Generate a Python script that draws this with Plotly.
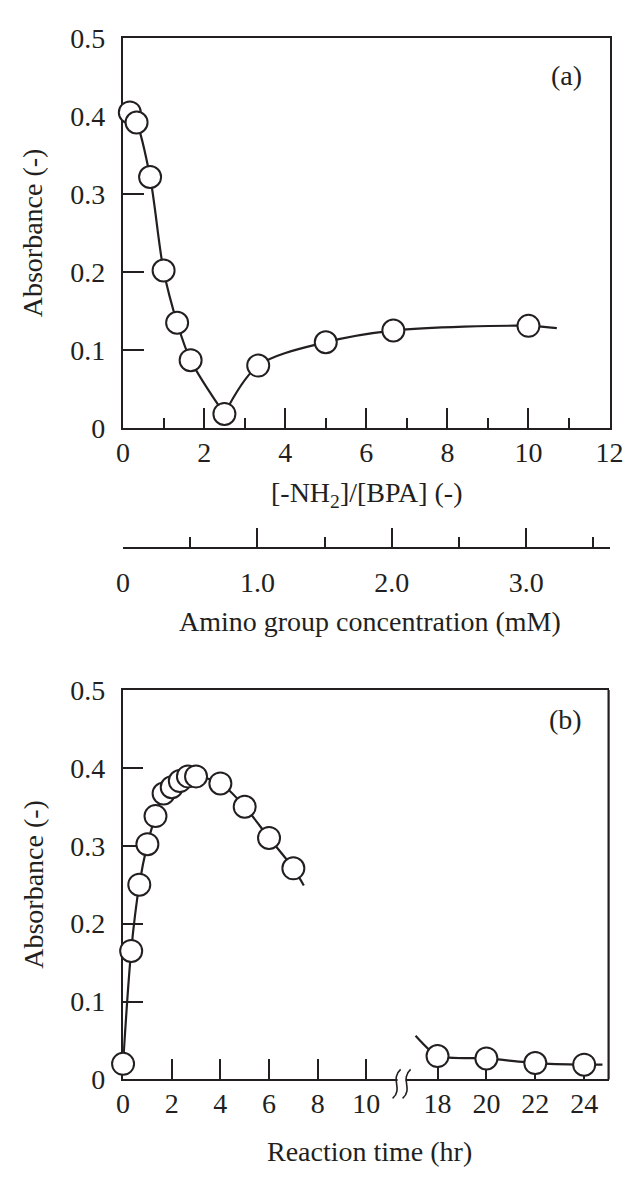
import plotly.graph_objects as go

W, H = 640, 1187
INK = "#231f20"
FONT = "'Liberation Serif', 'Times New Roman', Tinos, 'DejaVu Serif', serif"
FS = 28

# ---------------- data: panel (a) ----------------
ratio_a = [1/6, 1/3, 2/3, 1.0, 4/3, 5/3, 2.5, 10/3, 5.0, 20/3, 10.0]
abs_a = [0.405, 0.392, 0.322, 0.202, 0.135, 0.087, 0.018, 0.080, 0.110, 0.125, 0.131]
fit_a_end_x = [10.7]
fit_a_end_y = [0.128]
BPA_mM = 0.3  # amino conc (mM) = ratio * BPA conc

# ---------------- data: panel (b) ----------------
time_early = [0, 1/3, 2/3, 1, 4/3, 5/3, 2, 7/3, 8/3, 3, 4, 5, 6, 7]
abs_early = [0.020, 0.165, 0.250, 0.302, 0.338, 0.367, 0.375, 0.383, 0.389, 0.389,
             0.380, 0.350, 0.310, 0.271]
fit_early_end_x = [7.43]
fit_early_end_y = [0.249]
time_late = [18, 20, 22, 24]
abs_late = [0.030, 0.027, 0.021, 0.019]
fit_late_start_x = [17.1]
fit_late_start_y = [0.056]
fit_late_end_x = [24.75]
fit_late_end_y = [0.019]

# tick labels
y_ticks = [0, 0.1, 0.2, 0.3, 0.4, 0.5]
y_ticktext = ["0", "0.1", "0.2", "0.3", "0.4", "0.5"]
xa_ticks = [0, 2, 4, 6, 8, 10, 12]
xa_minor = [1, 3, 5, 7, 9, 11]
amino_ticks = [0, 1, 2, 3]
amino_ticktext = ["0", "1.0", "2.0", "3.0"]
amino_minor = [0.5, 1.5, 2.5, 3.5]
tb_left_ticks = [0, 2, 4, 6, 8, 10]
tb_right_ticks = [18, 20, 22, 24]

BREAK_LEFT = 11.45
BREAK_RIGHT = 16.53

line_style = dict(color=INK, width=2.2, shape="spline", smoothing=0.9)
marker_style = dict(symbol="circle", size=22, color="white", line=dict(color=INK, width=2))

fig = go.Figure()

# ---- panel (a) fit curve (two branches, sharp minimum) ----
fig.add_trace(go.Scatter(x=ratio_a[:7], y=abs_a[:7], mode="lines", line=line_style,
                         xaxis="x", yaxis="y", hoverinfo="skip"))
fig.add_trace(go.Scatter(x=ratio_a[6:] + fit_a_end_x, y=abs_a[6:] + fit_a_end_y, mode="lines",
                         line=line_style, xaxis="x", yaxis="y", hoverinfo="skip"))
fig.add_trace(go.Scatter(x=ratio_a, y=abs_a, mode="markers", marker=marker_style,
                         xaxis="x", yaxis="y", cliponaxis=False))
# invisible trace carrying the amino-group concentration axis
fig.add_trace(go.Scatter(x=[r * BPA_mM for r in ratio_a], y=abs_a, mode="markers",
                         marker=dict(opacity=0), xaxis="x4", yaxis="y", hoverinfo="skip"))

# ---- panel (b) ----
fig.add_trace(go.Scatter(x=time_early + fit_early_end_x, y=abs_early + fit_early_end_y,
                         mode="lines", line=line_style, xaxis="x2", yaxis="y2", hoverinfo="skip"))
fig.add_trace(go.Scatter(x=time_early, y=abs_early, mode="markers", marker=marker_style,
                         xaxis="x2", yaxis="y2", cliponaxis=False))
fig.add_trace(go.Scatter(x=fit_late_start_x + time_late + fit_late_end_x,
                         y=fit_late_start_y + abs_late + fit_late_end_y,
                         mode="lines", line=dict(color=INK, width=2.2, shape="spline", smoothing=0.6),
                         xaxis="x3", yaxis="y2", hoverinfo="skip"))
fig.add_trace(go.Scatter(x=time_late, y=abs_late, mode="markers", marker=marker_style,
                         xaxis="x3", yaxis="y2", cliponaxis=False))


def px_x(p):
    return p / W


def px_y(p):
    return (H - p) / H


tickfont = dict(family=FONT, size=FS, color=INK)
common = dict(showline=True, linecolor=INK, linewidth=2.2, ticks="inside", tickcolor=INK,
              tickwidth=2.2, showgrid=False, zeroline=False, tickfont=tickfont,
              layer="below traces", fixedrange=True)

xdom = [px_x(120), px_x(623)]
ydom_a = [px_y(424), px_y(24)]
ydom_b = [px_y(1093), px_y(693)]

fig.update_layout(
    width=W, height=H, margin=dict(l=0, r=0, t=0, b=0),
    paper_bgcolor="white", plot_bgcolor="white", showlegend=False,
    font=dict(family=FONT, color=INK),
    xaxis=dict(**common, domain=xdom, range=[0, 12], anchor="y", mirror=True,
               tickvals=xa_ticks, ticklen=20, ticklabelstandoff=-2,
               minor=dict(tickvals=xa_minor, ticklen=10, ticks="inside", tickwidth=2.2,
                          tickcolor=INK)),
    yaxis=dict(**common, domain=ydom_a, range=[0, 0.5], anchor="x", mirror=True,
               tickvals=y_ticks, ticktext=y_ticktext, ticklen=21, ticklabelstandoff=10),
    xaxis4=dict(**common, domain=xdom, range=[0, 3.62], anchor="free", overlaying="x",
                position=px_y(547), side="bottom",
                tickvals=amino_ticks, ticktext=amino_ticktext, ticklen=19,
                ticklabelstandoff=10,
                minor=dict(tickvals=amino_minor, ticklen=10, ticks="inside", tickwidth=2.2,
                           tickcolor=INK)),
    xaxis2=dict(**common, domain=[px_x(120), px_x(408)], range=[0, BREAK_LEFT], anchor="y2",
                mirror=True, tickvals=tb_left_ticks, ticklen=20, ticklabelstandoff=-2),
    xaxis3=dict(**common, domain=[px_x(408), px_x(622)], range=[BREAK_RIGHT, 25.0],
                anchor="y2", mirror=True, tickvals=tb_right_ticks, ticklen=20,
                ticklabelstandoff=-2),
    yaxis2=dict(**common, domain=ydom_b, range=[0, 0.5], anchor="x2", mirror=False,
                tickvals=y_ticks, ticktext=y_ticktext, ticklen=20, ticklabelstandoff=10),
)

# right border of panel (b)
fig.add_shape(type="line", xref="paper", yref="paper", x0=px_x(622), x1=px_x(622),
              y0=ydom_b[0], y1=ydom_b[1], line=dict(color=INK, width=2.2))
# axis break marks (paper referenced so they are not clipped)
bx = px_x(408)
by = px_y(1093)
fig.add_shape(type="rect", xref="paper", yref="paper", xsizemode="pixel", ysizemode="pixel",
              xanchor=bx, yanchor=by, x0=-4, x1=4, y0=-3, y1=3,
              fillcolor="white", line=dict(width=0), layer="above")
for dx in (-5, 5):
    fig.add_shape(type="path", xref="paper", yref="paper", xsizemode="pixel", ysizemode="pixel",
                  xanchor=bx, yanchor=by,
                  path=f"M {dx+4},10 C {dx-7},0 {dx+7},-9 {dx-4},-19",
                  line=dict(color=INK, width=1.6), layer="above")

ann_font = dict(family=FONT, size=FS, color=INK)
annotations = [
    dict(text="Absorbance (-)", x=px_x(26), y=px_y(224), textangle=-90),
    dict(text="Absorbance (-)", x=px_x(28), y=px_y(893), textangle=-90),
    dict(text="[-NH<sub>2</sub>]/[BPA] (-)", x=px_x(372), y=px_y(492)),
    dict(text="Amino group concentration (mM)", x=px_x(375), y=px_y(623)),
    dict(text="Reaction time (hr)", x=px_x(375), y=px_y(1167)),
    dict(text="(a)", x=px_x(578), y=px_y(62)),
    dict(text="(b)", x=px_x(577), y=px_y(723)),
]
for a in annotations:
    fig.add_annotation(xref="paper", yref="paper", showarrow=False, font=ann_font,
                       xanchor="center", yanchor="middle", **a)

fig.write_html("out.html")
